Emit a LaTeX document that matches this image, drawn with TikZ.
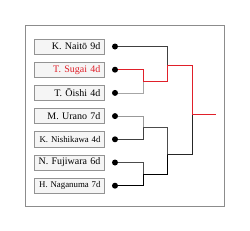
\documentclass[tikz,border=0pt]{standalone}
\usepackage{fontspec}
\setmainfont{Liberation Serif}
\definecolor{sred}{HTML}{E0202A}
\begin{document}
\begin{tikzpicture}[x=1pt,y=-1pt]
\tikzset{
player/.style={draw=gray!85,fill=gray!8,line width=0.6pt,minimum width=70.4pt,minimum height=15.3pt,inner sep=0pt,text width=62pt,align=right},
dot/.style={circle,fill=black,inner sep=0pt,minimum size=6pt},
wire/.style={line width=0.8pt},
win/.style={line width=0.9pt,color=sred}
}
\useasboundingbox (0,0) rectangle (250,231);
\draw[gray!90,line width=0.7pt] (25.7,25.3) rectangle (224,206);

\foreach \n/\t/\c/\s [count=\i] in {naito/K. Naitō 9d/black/10,sugai/T. Sugai 4d/sred/10,oishi/T. Ōishi 4d/black/10,urano/M. Urano 7d/black/10,nishikawa/K. Nishikawa 4d/black/8.8,fujiwara/N. Fujiwara 6d/black/10,naganuma/H. Naganuma 7d/black/8.8}{
\node[player,text=\c,font=\fontsize{\s}{12}\selectfont] (\n) at (69.5,{46.5+23.2*(\i-1)}) {\t};
\node[dot] (\n-dot) at (115,{46.5+23.2*(\i-1)}) {};
}

\coordinate (q1) at (143.3,81.3);
\coordinate (q2) at (143.3,127.7);
\coordinate (q3) at (143.3,174.3);
\coordinate (s1) at (167.3,65.5);
\coordinate (s2) at (167.3,154.3);
\coordinate (f) at (192.3,114.3);
\coordinate (out) at (216.5,114.3);

\draw[wire,black!75] (naito-dot) -| (s1);
\draw[wire,black!35] (oishi-dot) -| (q1);
\draw[wire,black!40] (urano-dot) -| (q2);
\draw[wire,black!75] (nishikawa-dot) -| (q2);
\draw[wire,black!70] (fujiwara-dot) -| (q3);
\draw[wire,black] (naganuma-dot) -| (q3);
\draw[wire,black!70] (q2) -| (s2);
\draw[wire,black] (q3) -| (s2);
\draw[wire,black!85] (s2) -| (f);
\draw[win] (sugai-dot) -| (q1) -| (s1) -| (f) -- (out);

\end{tikzpicture}
\end{document}
